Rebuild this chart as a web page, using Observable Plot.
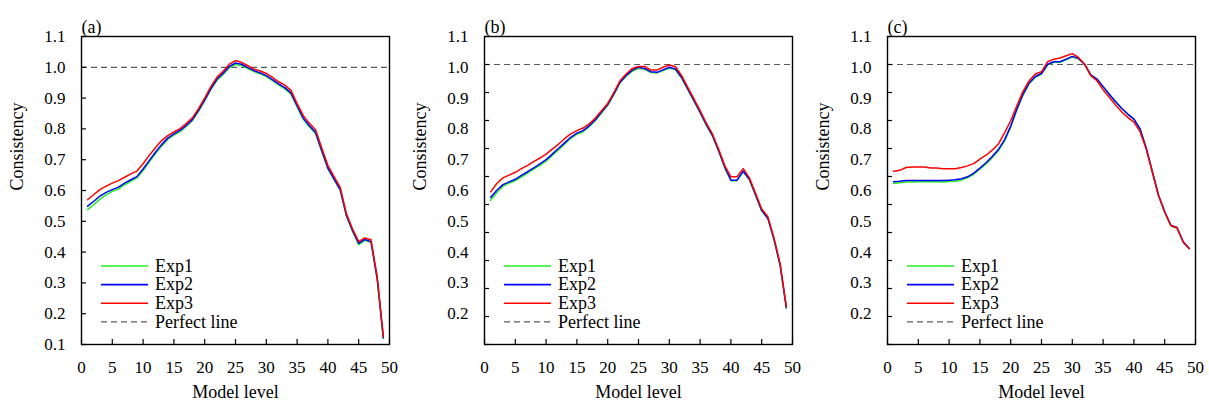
<!DOCTYPE html>
<html>
<head>
<meta charset="utf-8">
<script src="https://cdn.jsdelivr.net/npm/d3@7"></script>
<script src="https://cdn.jsdelivr.net/npm/@observablehq/plot@0.6"></script>
<style>
  body { margin: 0; background: #fff; }
  #wrap { display: flex; width: 1209px; height: 407px; }
  .panel { position: relative; width: 403px; height: 407px; }
  .panel svg { position: absolute; left: 0; top: 0; }
  .panel svg, .panel svg text { font-family: "Liberation Serif", "Times New Roman", Times, serif !important; }
</style>
</head>
<body>
<div id="wrap"></div>
<script>
const levels = [1,2,3,4,5,6,7,8,9,10,11,12,13,14,15,16,17,18,19,20,21,22,23,24,25,26,27,28,29,30,31,32,33,34,35,36,37,38,39,40,41,42,43,44,45,46,47,48,49];
const seriesNames = ["Exp1", "Exp2", "Exp3"];
const seriesColors = ["#22ee22", "#0000ff", "#ff0000"];
const panelTags = ["(a)", "(b)", "(c)"];
const xTicks = [0, 5, 10, 15, 20, 25, 30, 35, 40, 45, 50];
const yTicksA = [0.1, 0.2, 0.3, 0.4, 0.5, 0.6, 0.7, 0.8, 0.9, 1.0, 1.1];
const yTicksBC = [0.0, 0.1, 0.2, 0.3, 0.4, 0.5, 0.6, 0.7, 0.8, 0.9, 1.0, 1.1];
const yLabelsA = [0.1, 0.2, 0.3, 0.4, 0.5, 0.6, 0.7, 0.8, 0.9, 1.0, 1.1];
const yLabelsBC = [0.2, 0.3, 0.4, 0.5, 0.6, 0.7, 0.8, 0.9, 1.0, 1.1];
const perfectValue = 1.0;
const xLabel = "Model level";
const yLabel = "Consistency";
const legendLabels = ["Exp1", "Exp2", "Exp3", "Perfect line"];

// Panel (a)
const aExp1 = [0.538,0.554,0.572,0.586,0.597,0.605,0.618,0.630,0.641,0.665,
               0.692,0.719,0.744,0.766,0.780,0.791,0.808,0.827,0.857,0.891,
               0.928,0.958,0.977,0.999,1.009,1.006,0.996,0.986,0.979,0.970,
               0.957,0.943,0.930,0.913,0.871,0.831,0.806,0.784,0.727,0.670,
               0.635,0.600,0.517,0.467,0.424,0.438,0.431,0.312,0.120];
const aExp2 = [0.549,0.565,0.582,0.594,0.603,0.611,0.624,0.635,0.645,0.670,
               0.697,0.724,0.749,0.770,0.784,0.795,0.811,0.830,0.860,0.894,
               0.931,0.962,0.981,1.003,1.014,1.010,0.999,0.989,0.982,0.973,
               0.960,0.946,0.934,0.917,0.875,0.835,0.810,0.788,0.730,0.673,
               0.638,0.603,0.520,0.470,0.428,0.441,0.434,0.315,0.122];
const aExp3 = [0.570,0.587,0.603,0.614,0.624,0.632,0.643,0.654,0.663,0.687,
               0.714,0.739,0.762,0.778,0.790,0.801,0.817,0.836,0.866,0.900,
               0.937,0.968,0.987,1.010,1.022,1.016,1.005,0.994,0.988,0.980,
               0.967,0.953,0.942,0.925,0.882,0.843,0.818,0.797,0.738,0.681,
               0.645,0.610,0.525,0.475,0.434,0.446,0.440,0.320,0.125];
// Panel (b)
const bExp1 = [0.515,0.543,0.565,0.577,0.585,0.598,0.612,0.626,0.640,0.655,
               0.675,0.695,0.715,0.736,0.751,0.760,0.778,0.800,0.827,0.854,
               0.892,0.934,0.958,0.976,0.986,0.983,0.971,0.970,0.978,0.987,
               0.981,0.951,0.910,0.869,0.827,0.783,0.744,0.690,0.631,0.585,
               0.585,0.617,0.588,0.533,0.477,0.449,0.374,0.281,0.130];
const bExp2 = [0.525,0.551,0.571,0.581,0.590,0.604,0.617,0.631,0.645,0.660,
               0.680,0.700,0.720,0.740,0.755,0.764,0.781,0.803,0.830,0.857,
               0.895,0.937,0.961,0.980,0.990,0.986,0.974,0.972,0.981,0.990,
               0.984,0.954,0.913,0.872,0.830,0.786,0.747,0.693,0.634,0.587,
               0.587,0.619,0.590,0.535,0.479,0.451,0.376,0.283,0.132];
const bExp3 = [0.545,0.575,0.595,0.605,0.615,0.628,0.640,0.653,0.666,0.680,
               0.698,0.715,0.735,0.752,0.764,0.773,0.788,0.809,0.835,0.861,
               0.900,0.942,0.966,0.986,0.993,0.993,0.980,0.980,0.990,0.998,
               0.992,0.960,0.918,0.877,0.835,0.791,0.752,0.698,0.639,0.599,
               0.599,0.628,0.595,0.540,0.484,0.456,0.380,0.287,0.134];
// Panel (c)
const cExp1 = [0.575,0.578,0.580,0.580,0.581,0.581,0.581,0.581,0.580,0.582,
               0.583,0.587,0.595,0.608,0.626,0.645,0.667,0.692,0.727,0.776,
               0.838,0.891,0.931,0.954,0.966,0.999,1.008,1.008,1.017,1.027,
               1.020,1.000,0.963,0.948,0.921,0.894,0.868,0.844,0.823,0.805,
               0.770,0.701,0.615,0.531,0.472,0.423,0.415,0.365,0.342];
const cExp2 = [0.581,0.583,0.586,0.586,0.586,0.586,0.586,0.586,0.586,0.587,
               0.588,0.592,0.599,0.612,0.630,0.649,0.671,0.696,0.731,0.780,
               0.841,0.894,0.934,0.957,0.968,1.001,1.010,1.010,1.019,1.029,
               1.022,1.001,0.963,0.948,0.921,0.894,0.868,0.844,0.823,0.805,
               0.770,0.702,0.617,0.533,0.474,0.426,0.418,0.367,0.343];
const cExp3 = [0.619,0.622,0.632,0.634,0.634,0.634,0.630,0.630,0.628,0.628,
               0.628,0.632,0.638,0.646,0.662,0.676,0.694,0.716,0.756,0.799,
               0.853,0.904,0.942,0.966,0.974,1.010,1.019,1.023,1.031,1.039,
               1.025,1.001,0.960,0.942,0.910,0.883,0.856,0.831,0.811,0.794,
               0.760,0.698,0.615,0.532,0.473,0.425,0.416,0.366,0.342];

const panels = [
  {tag: panelTags[0], series: [aExp1, aExp2, aExp3], yDomain: [0.1, 1.1], yTicks: yTicksA, yLabels: yLabelsA},
  {tag: panelTags[1], series: [bExp1, bExp2, bExp3], yDomain: [0.0, 1.1], yTicks: yTicksBC, yLabels: yLabelsBC},
  {tag: panelTags[2], series: [cExp1, cExp2, cExp3], yDomain: [0.0, 1.1], yTicks: yTicksBC, yLabels: yLabelsBC}
];

const FONT = "'Liberation Serif', 'Times New Roman', Times, serif";
const W = 403, H = 407;
const M = {top: 36, right: 14, bottom: 63, left: 81};
const DASH = "6,4";
const DASH_COLOR = "#5a5a5a";

const wrap = document.getElementById("wrap");

panels.forEach(p => {
  const rows = [];
  p.series.forEach((vals, si) => {
    vals.forEach((v, i) => rows.push({level: levels[i], value: v, series: seriesNames[si]}));
  });

  const div = document.createElement("div");
  div.className = "panel";
  wrap.appendChild(div);

  const chart = Plot.plot({
    width: W, height: H,
    marginTop: M.top, marginRight: M.right, marginBottom: M.bottom, marginLeft: M.left,
    style: {fontFamily: FONT, fontSize: "17px", color: "#000", background: "transparent", overflow: "visible"},
    x: {domain: [0, 50]},
    y: {domain: p.yDomain},
    color: {domain: seriesNames, range: seriesColors},
    marks: [
      Plot.ruleY([perfectValue], {stroke: DASH_COLOR, strokeWidth: 1.2, strokeDasharray: DASH}),
      Plot.line(rows, {x: "level", y: "value", z: "series", stroke: "series", strokeWidth: 1.5}),
      Plot.frame({stroke: "#000", strokeWidth: 1.4}),
      Plot.axisX({ticks: xTicks, tickSize: 0, tickPadding: 16, tickFormat: d => String(d), label: null, fontSize: 17}),
      Plot.axisX({ticks: xTicks, tickSize: 5, dy: -5, fill: "none", stroke: "#000", strokeWidth: 1.2}),
      Plot.axisY({ticks: p.yTicks, tickSize: 5, dx: 5, fill: "none", stroke: "#000", strokeWidth: 1.2}),
      Plot.text([xLabel], {text: d => d, frameAnchor: "bottom", dy: 53, fontSize: 18}),
      Plot.text([yLabel], {text: d => d, frameAnchor: "left", dx: -64, rotate: -90, fontSize: 18}),
      Plot.text([p.tag], {text: d => d, frameAnchor: "top-left", dy: -16, textAnchor: "start", fontSize: 18})
    ]
  });
  div.appendChild(chart);

  // Y tick labels (placed as in the original figure)
  const labelsPlot = Plot.plot({
    width: W, height: H,
    marginTop: M.top, marginRight: M.right, marginBottom: M.bottom, marginLeft: M.left,
    style: {fontFamily: FONT, fontSize: "17px", color: "#000", background: "transparent", overflow: "visible"},
    y: {domain: [0.1, 1.1]},
    marks: [
      Plot.axisY({ticks: p.yLabels, tickSize: 0, tickPadding: 16, tickFormat: d => d.toFixed(1), label: null, fontSize: 17})
    ]
  });
  div.appendChild(labelsPlot);

  // Legend
  const colorScale = chart.scale("color");
  const items = legendLabels.map((name, i) => i < seriesNames.length
    ? {name, color: colorScale.apply(name), dash: null}
    : {name, color: DASH_COLOR, dash: DASH});
  const g = d3.select(chart).append("g")
    .attr("font-family", FONT).attr("font-size", 18).attr("fill", "#000")
    .attr("text-anchor", "start");
  items.forEach((it, i) => {
    const y = 266 + i * 18.6;
    g.append("line").attr("x1", M.left + 20).attr("x2", M.left + 67)
      .attr("y1", y).attr("y2", y)
      .attr("stroke", it.color).attr("stroke-width", it.dash ? 1.2 : 1.6)
      .attr("stroke-dasharray", it.dash);
    g.append("text").attr("x", M.left + 74).attr("y", y).attr("dy", "0.32em")
      .attr("text-anchor", "start").text(it.name);
  });
});
</script>
</body>
</html>
